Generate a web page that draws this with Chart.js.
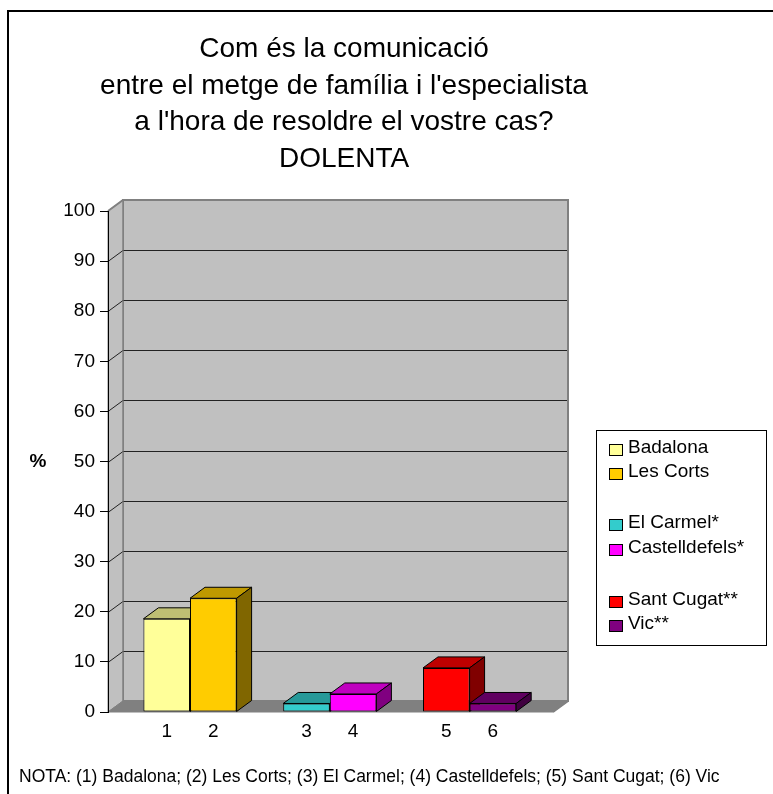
<!DOCTYPE html>
<html>
<head>
<meta charset="utf-8">
<script src="https://cdn.jsdelivr.net/npm/chart.js@4"></script>
<style>
html,body{margin:0;padding:0;background:#fff;}
canvas{display:block;}
</style>
</head>
<body>
<canvas id="c" width="773" height="794"></canvas>
<script>
// ---- data ----
const categories = ['Badalona', 'Les Corts', 'El Carmel*', 'Castelldefels*', 'Sant Cugat**', 'Vic**'];
const tickLabels = ['1', '2', '3', '4', '5', '6'];
const values = [18.6, 22.7, 1.7, 3.6, 8.8, 1.7];
const colors = ['#FFFF99', '#FFCC00', '#33CCCC', '#FF00FF', '#FF0000', '#800080'];
const titleLines = ['Com és la comunicació', "entre el metge de família i l'especialista", "a l'hora de resoldre el vostre cas?", 'DOLENTA'];
const yAxisLabel = '%';
const noteText = 'NOTA: (1) Badalona; (2) Les Corts; (3) El Carmel; (4) Castelldefels; (5) Sant Cugat; (6) Vic';
const groupSize = 2;

// ---- layout helpers ----
const FONT = '"Liberation Sans", Arial, Helvetica, sans-serif';
const positions = values.map((v, i) => i + Math.floor(i / groupSize) + 1);
const DX = 15, DY = -11;

function shade(hex, f) {
  const n = parseInt(hex.slice(1), 16);
  const r = Math.round(((n >> 16) & 255) * f), g = Math.round(((n >> 8) & 255) * f), b = Math.round((n & 255) * f);
  return 'rgb(' + r + ',' + g + ',' + b + ')';
}

function poly(ctx, pts, fill, stroke, lw) {
  ctx.beginPath();
  ctx.moveTo(pts[0][0], pts[0][1]);
  for (let i = 1; i < pts.length; i++) ctx.lineTo(pts[i][0], pts[i][1]);
  ctx.closePath();
  if (fill) { ctx.fillStyle = fill; ctx.fill(); }
  if (stroke) { ctx.strokeStyle = stroke; ctx.lineWidth = lw || 1; ctx.stroke(); }
}

const wallsPlugin = {
  id: 'walls',
  beforeDraw(chart) {
    const ctx = chart.ctx;
    const a = chart.chartArea;
    const y = chart.scales.y;
    ctx.save();
    // back wall
    poly(ctx, [[a.left + DX, a.top + DY], [a.right + DX, a.top + DY], [a.right + DX, a.bottom + DY], [a.left + DX, a.bottom + DY]], '#C0C0C0', '#808080', 2);
    // side wall
    poly(ctx, [[a.left, a.top], [a.left + DX, a.top + DY], [a.left + DX, a.bottom + DY], [a.left, a.bottom]], '#C0C0C0', '#808080', 1);
    // floor
    poly(ctx, [[a.left, a.bottom], [a.right, a.bottom], [a.right + DX, a.bottom + DY], [a.left + DX, a.bottom + DY]], '#808080', '#808080', 1);
    // gridlines
    ctx.strokeStyle = '#222';
    ctx.lineWidth = 1;
    y.ticks.forEach(t => {
      if (t.value <= 0 || t.value >= 100) return;
      const py = Math.round(y.getPixelForValue(t.value)) + 0.5;
      ctx.beginPath();
      ctx.moveTo(a.left, py);
      ctx.lineTo(a.left + DX, py + DY);
      ctx.lineTo(a.right + DX, py + DY);
      ctx.stroke();
    });
    // wall edge lines
    ctx.strokeStyle = '#808080';
    ctx.lineWidth = 2;
    ctx.beginPath();
    ctx.moveTo(a.left, a.top); ctx.lineTo(a.left + DX, a.top + DY); ctx.lineTo(a.right + DX, a.top + DY);
    ctx.lineTo(a.right + DX, a.bottom + DY); ctx.lineTo(a.right, a.bottom);
    ctx.stroke();
    ctx.lineWidth = 1;
    ctx.beginPath();
    ctx.moveTo(a.left + DX, a.top + DY); ctx.lineTo(a.left + DX, a.bottom + DY);
    ctx.stroke();
    ctx.restore();
  },
  beforeDatasetsDraw(chart) {
    const ctx = chart.ctx;
    const meta = chart.getDatasetMeta(0);
    ctx.save();
    meta.data.forEach((bar, i) => {
      const l = bar.x - bar.width / 2, r = bar.x + bar.width / 2, t = bar.y, b = bar.base;
      const c = colors[i];
      poly(ctx, [[l, t], [r, t], [r + DX, t + DY], [l + DX, t + DY]], shade(c, 0.75), '#000', 1);
      poly(ctx, [[r, t], [r + DX, t + DY], [r + DX, b + DY], [r, b]], shade(c, 0.5), '#000', 1);
    });
    ctx.restore();
  },
  afterDraw(chart) {
    const ctx = chart.ctx;
    ctx.save();
    // outer border
    ctx.strokeStyle = '#000';
    ctx.lineWidth = 2;
    ctx.beginPath();
    ctx.moveTo(8, 800); ctx.lineTo(8, 11); ctx.lineTo(780, 11);
    ctx.stroke();
    // title
    ctx.fillStyle = '#000';
    ctx.font = '28px ' + FONT;
    ctx.textAlign = 'center';
    ctx.textBaseline = 'alphabetic';
    const baselines = [57, 93.5, 130, 166.5];
    titleLines.forEach((s, i) => ctx.fillText(s, 344, baselines[i]));
    // y axis label
    ctx.font = 'bold 19px ' + FONT;
    ctx.textBaseline = 'middle';
    ctx.fillText(yAxisLabel, 38, 462);
    // legend
    ctx.lineWidth = 1;
    ctx.strokeStyle = '#000';
    ctx.strokeRect(596.5, 430.5, 170, 215);
    ctx.font = '19px ' + FONT;
    ctx.textAlign = 'left';
    const centers = [448, 472, 523, 548, 600, 624];
    categories.forEach((name, i) => {
      const cy = centers[i];
      ctx.fillStyle = colors[i];
      ctx.fillRect(609.5, cy - 3.5, 13, 11);
      ctx.strokeRect(609.5, cy - 3.5, 13, 11);
      ctx.fillStyle = '#000';
      ctx.fillText(name, 628, cy);
    });
    // note
    ctx.font = '17.5px ' + FONT;
    ctx.fillText(noteText, 19, 777);
    ctx.restore();
  }
};

new Chart(document.getElementById('c'), {
  type: 'bar',
  data: {
    datasets: [{
      label: 'DOLENTA',
      data: values.map((v, i) => ({ x: positions[i], y: v })),
      backgroundColor: colors,
      borderColor: '#000',
      borderWidth: 1,
      borderSkipped: false,
      barPercentage: 1,
      categoryPercentage: 1,
      inflateAmount: 0
    }]
  },
  options: {
    responsive: false,
    animation: false,
    devicePixelRatio: 1,
    layout: { padding: { left: 0, right: 220, top: 211, bottom: 40 } },
    plugins: { legend: { display: false }, tooltip: { enabled: false }, title: { display: false } },
    scales: {
      x: {
        type: 'linear',
        min: -0.26,
        max: 9.29,
        offset: false,
        grid: { display: false, drawTicks: false },
        border: { display: false },
        afterBuildTicks: s => { s.ticks = positions.map(v => ({ value: v })); },
        ticks: {
          callback: v => { const i = positions.indexOf(v); return i >= 0 ? tickLabels[i] : ''; },
          color: '#000',
          font: { size: 19, family: FONT },
          padding: 8,
          autoSkip: false,
          maxRotation: 0
        },
        afterFit: s => { s.height = 42; }
      },
      y: {
        min: 0,
        max: 100,
        ticks: { stepSize: 10, color: '#000', font: { size: 19, family: FONT }, padding: 5 },
        grid: { drawOnChartArea: false, drawTicks: true, tickLength: 8, color: '#000' },
        border: { display: true, color: '#000', width: 1 },
        afterFit: s => { s.width = 108; }
      }
    }
  },
  plugins: [wallsPlugin]
});
</script>
</body>
</html>
